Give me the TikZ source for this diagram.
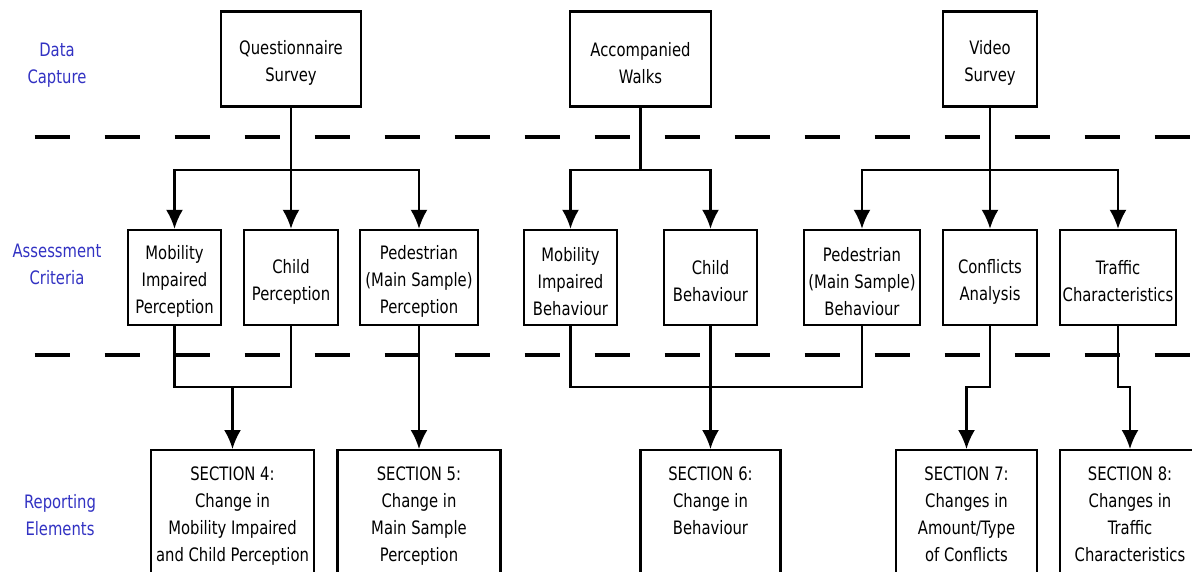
\documentclass[tikz,border=0pt]{standalone}
\usepackage{fontspec}
\setmainfont{DejaVu Sans}[FakeStretch=0.8]
\usetikzlibrary{arrows.meta}
\definecolor{lblblue}{RGB}{50,50,195}
\newcommand{\lift}{\rule{0pt}{22pt}}

\begin{document}
\begin{tikzpicture}[x=1pt, y=-1pt, line width=2.2pt,
        every node/.style={font=\fontsize{18.5pt}{27pt}\selectfont},
        box/.style={draw, line width=2.4pt, align=center, inner xsep=2pt, minimum height=95pt},
        sect/.style={box, anchor=north, inner ysep=8pt},
        lbl/.style={text=lblblue, align=center},
        arr/.style={-{Latex[length=19pt,width=17pt]}},
        sep/.style={line width=4.7pt, dash pattern=on 35pt off 35pt}]
    \fill[white] (0,0) rectangle (1192,572);
    \clip (0,0) rectangle (1192,572);
    % row labels
    \node[lbl] (dc) at (57,65) {Data\\Capture};
    \node[lbl] (ac) at (57,264) {Assessment\\Criteria};
    \node[lbl] (re) at (60,515) {Reporting\\Elements};
    % separators
    \foreach \y in {137, 355}{
        \draw[sep] (34.5,\y) -- (1192,\y);
    }
    % data capture
    \node[box, minimum width=140pt] (qs) at (291,59) {\lift Questionnaire\\Survey};
    \node[box, minimum width=141pt] (aw) at (640.5,59) {\lift Accompanied\\Walks};
    \node[box, minimum width=94pt] (vs) at (990,59) {\lift Video\\Survey};
    % assessment criteria
    \node[box, minimum width=93pt] (mip) at (174.5,277.5) {\lift Mobility\\Impaired\\Perception};
    \node[box, minimum width=94pt] (cp) at (291,277.5) {\lift Child\\Perception};
    \node[box, minimum width=118pt] (pp) at (419,277.5) {\lift Pedestrian\\(Main Sample)\\Perception};
    \node[box, minimum width=93pt] (mib) at (570.5,277.5) {\lift Mobility\\Impaired\\Behaviour};
    \node[box, minimum width=93pt] (cb) at (710.5,277.5) {\lift Child\\Behaviour};
    \node[box, minimum width=116pt] (pb) at (862,277.5) {\lift Pedestrian\\(Main Sample)\\Behaviour};
    \node[box, minimum width=94pt] (ca) at (990,277.5) {\lift Conflicts\\Analysis};
    \node[box, minimum width=116pt] (tc) at (1118,277.5) {\lift Traffic\\Characteristics};
    % reporting elements
    \node[sect, minimum width=163pt] (s4) at (232.5,449) {\lift SECTION 4:\\Change in\\Mobility Impaired\\and Child Perception\\\strut};
    \node[sect, minimum width=163pt] (s5) at (419,449) {\lift SECTION 5:\\Change in\\Main Sample\\Perception\\\strut};
    \node[sect, minimum width=140pt] (s6) at (710.5,449) {\lift SECTION 6:\\Change in\\Behaviour\\\strut\\\strut};
    \node[sect, minimum width=141pt] (s7) at (966.5,449) {\lift SECTION 7:\\Changes in\\Amount/Type\\of Conflicts\\\strut};
    \node[sect, minimum width=140pt] (s8) at (1130,449) {\lift SECTION 8:\\Changes in\\Traffic\\Characteristics\\\strut};
    % capture -> criteria
    \draw[arr] (qs.south) -- (cp.north);
    \foreach \n in {mip, pp}{
        \draw[arr] (qs.south) -- ++(0,62) -| (\n.north);
    }
    \foreach \n in {mib, cb}{
        \draw[arr] (aw.south) -- ++(0,62) -| (\n.north);
    }
    \draw[arr] (vs.south) -- (ca.north);
    \foreach \n in {pb, tc}{
        \draw[arr] (vs.south) -- ++(0,62) -| (\n.north);
    }
    % criteria -> reporting
    \draw (mip.south) -- ++(0,61) coordinate (j4) -| (cp.south);
    \draw[arr] (j4 -| s4.north) -- (s4.north);
    \draw[arr] (pp.south) -- (s5.north);
    \draw (mib.south) -- ++(0,61) -| (pb.south);
    \draw[arr] (cb.south) -- (s6.north);
    \draw[arr] (ca.south) -- ++(0,61) -| (s7.north);
    \draw[arr] (tc.south) -- ++(0,61) -| (s8.north);
\end{tikzpicture}
\end{document}
